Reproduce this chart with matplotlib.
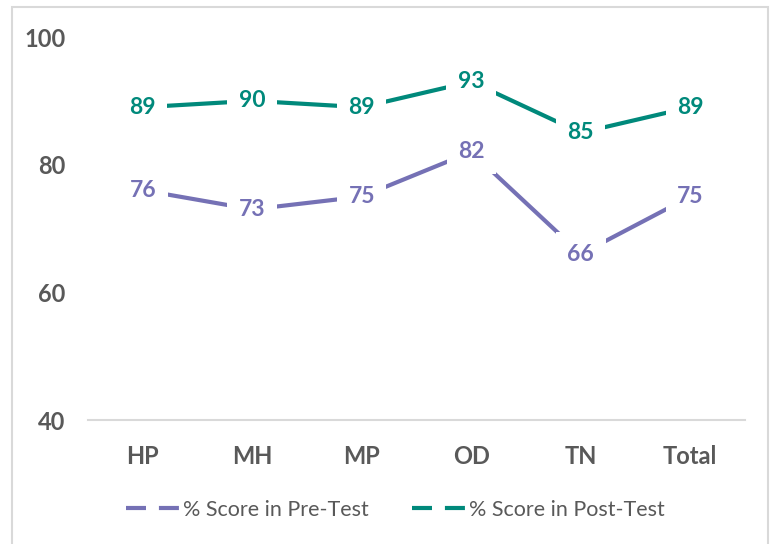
import matplotlib.pyplot as plt
from matplotlib.patches import Rectangle
from matplotlib.lines import Line2D

categories = ["HP", "MH", "MP", "OD", "TN", "Total"]
pre_test = [76, 73, 75, 82, 66, 75]
post_test = [89, 90, 89, 93, 85, 89]
y_ticks = [40, 60, 80, 100]

purple = "#7571b5"
teal = "#00897b"
grey_text = "#595959"

plt.rcParams["font.family"] = ["Lato", "DejaVu Sans"]

fig = plt.figure(figsize=(7.75, 5.44), dpi=100)
ax = fig.add_axes([88 / 775, 1 - 420 / 544, 657 / 775, 383 / 544])

x = list(range(len(categories)))
for vals, col in [(pre_test, purple), (post_test, teal)]:
    ax.plot(x, vals, color=col, lw=3, solid_capstyle="butt")
    for xi, v in zip(x, vals):
        ax.text(xi, v, str(v), color=col, fontsize=16.5, fontweight="bold",
                ha="center", va="center", zorder=5,
                bbox=dict(boxstyle="square,pad=0.5", fc="white", ec="none"))

ax.set_xlim(-0.5, len(categories) - 0.5)
ax.set_ylim(40, 100)
ax.set_yticks(y_ticks)
ax.set_xticks(x)
ax.set_xticklabels(categories)
ax.tick_params(axis="both", length=0, labelsize=17, labelcolor=grey_text)
ax.tick_params(axis="y", pad=16)
ax.tick_params(axis="x", pad=18)
for lbl in ax.get_xticklabels() + ax.get_yticklabels():
    lbl.set_fontweight("bold")

for s in ["top", "right", "left"]:
    ax.spines[s].set_visible(False)
ax.spines["bottom"].set_color("#d9d9d9")
ax.spines["bottom"].set_linewidth(1.5)

dash = (0, (4.8, 3.1))
handles = [Line2D([], [], color=purple, lw=3, linestyle=dash),
           Line2D([], [], color=teal, lw=3, linestyle=dash)]
fig.legend(handles, ["% Score in Pre-Test", "% Score in Post-Test"],
           loc="center", bbox_to_anchor=(395 / 775, 1 - 510 / 544),
           ncol=2, frameon=False, fontsize=15.5, handlelength=2.55,
           handletextpad=0.1, columnspacing=2.0, labelcolor=grey_text)

fig.patches.append(Rectangle((12 / 775, -0.05), 756 / 775, 1.05 - 7 / 544,
                             transform=fig.transFigure, fill=False,
                             ec="#d9d9d9", lw=1.5))

fig.savefig("out.png", dpi=100)
